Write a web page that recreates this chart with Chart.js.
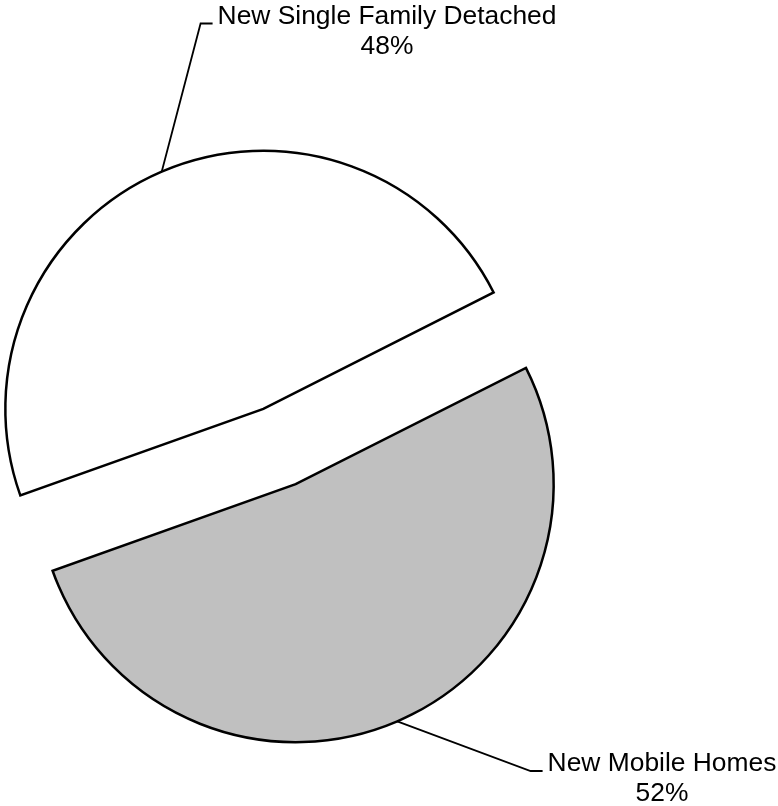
<!DOCTYPE html>
<html>
<head>
<meta charset="utf-8">
<script src="https://cdn.jsdelivr.net/npm/chart.js@4.4.0/dist/chart.umd.min.js"></script>
<style>
  html, body { margin: 0; padding: 0; background: #fff; }
  #wrap { width: 778px; height: 806px; }
</style>
</head>
<body>
<div id="wrap"><canvas id="housing-pie" width="778" height="806"></canvas></div>
<script>
// valores
const categories = ['New Single Family Detached', 'New Mobile Homes'];
const shares = [48, 52];

const sliceColors = ['#ffffff', '#c0c0c0'];
const PIE_RADIUS = 258;
const EXPLODE = 41;   // quanto cada fatia se afasta do centro (px)

// centro do texto e linha de base da 1a linha de cada rótulo
const labelSpots = [
  { x: 387, y: 23.5 },
  { x: 662, y: 771 }
];

// "explode" as fatias: afasta cada uma do centro pela bissetriz.
// (o offset nativo do Chart.js também estreita o ângulo e muda o raio)
const explodeSlices = {
  id: 'explodeSlices',
  beforeDatasetsDraw(chart, args, opts) {
    const { left, right, top, bottom } = chart.chartArea;
    const cx = (left + right) / 2;
    const cy = (top + bottom) / 2;
    chart.getDatasetMeta(0).data.forEach(arc => {
      const mid = (arc.startAngle + arc.endAngle) / 2;
      arc.x = cx + Math.cos(mid) * opts.distance;
      arc.y = cy + Math.sin(mid) * opts.distance;
    });
  }
};

// rótulos com linha de chamada, estilo Excel
const leaderLabels = {
  id: 'leaderLabels',
  afterDatasetsDraw(chart) {
    const ctx = chart.ctx;
    const arcs = chart.getDatasetMeta(0).data;
    ctx.save();
    ctx.font = '26.4px "Liberation Sans", Arial, sans-serif';
    ctx.fillStyle = '#000';
    ctx.strokeStyle = '#000';
    ctx.lineWidth = 1.8;
    arcs.forEach((arc, i) => {
      const mid = (arc.startAngle + arc.endAngle) / 2;
      const ax = arc.x + Math.cos(mid) * arc.outerRadius;
      const ay = arc.y + Math.sin(mid) * arc.outerRadius;

      const spot = labelSpots[i];
      const line1 = categories[i];
      const line2 = shares[i] + '%';
      const left = spot.x - ctx.measureText(line1).width / 2;

      ctx.beginPath();
      ctx.moveTo(ax, ay);
      ctx.lineTo(left - 17, spot.y);
      ctx.lineTo(left - 5, spot.y);
      ctx.stroke();

      ctx.textAlign = 'center';
      ctx.textBaseline = 'alphabetic';
      ctx.fillText(line1, spot.x, spot.y);
      ctx.fillText(line2, spot.x, spot.y + 30);
    });
    ctx.restore();
  }
};

new Chart(document.getElementById('housing-pie'), {
  type: 'pie',
  data: {
    labels: categories,
    datasets: [{
      data: shares,
      backgroundColor: sliceColors,
      borderColor: '#000',
      borderWidth: 2.5,
      borderJoinStyle: 'miter',
      offset: 0,
      hoverOffset: 0
    }]
  },
  options: {
    responsive: false,
    animation: false,
    events: [],
    rotation: 250.4,
    radius: PIE_RADIUS,
    layout: { padding: { left: 0, right: 219, top: 87, bottom: 0 } },
    plugins: {
      legend: { display: false },
      tooltip: { enabled: false },
      explodeSlices: { distance: EXPLODE }
    }
  },
  plugins: [explodeSlices, leaderLabels]
});
</script>
</body>
</html>
